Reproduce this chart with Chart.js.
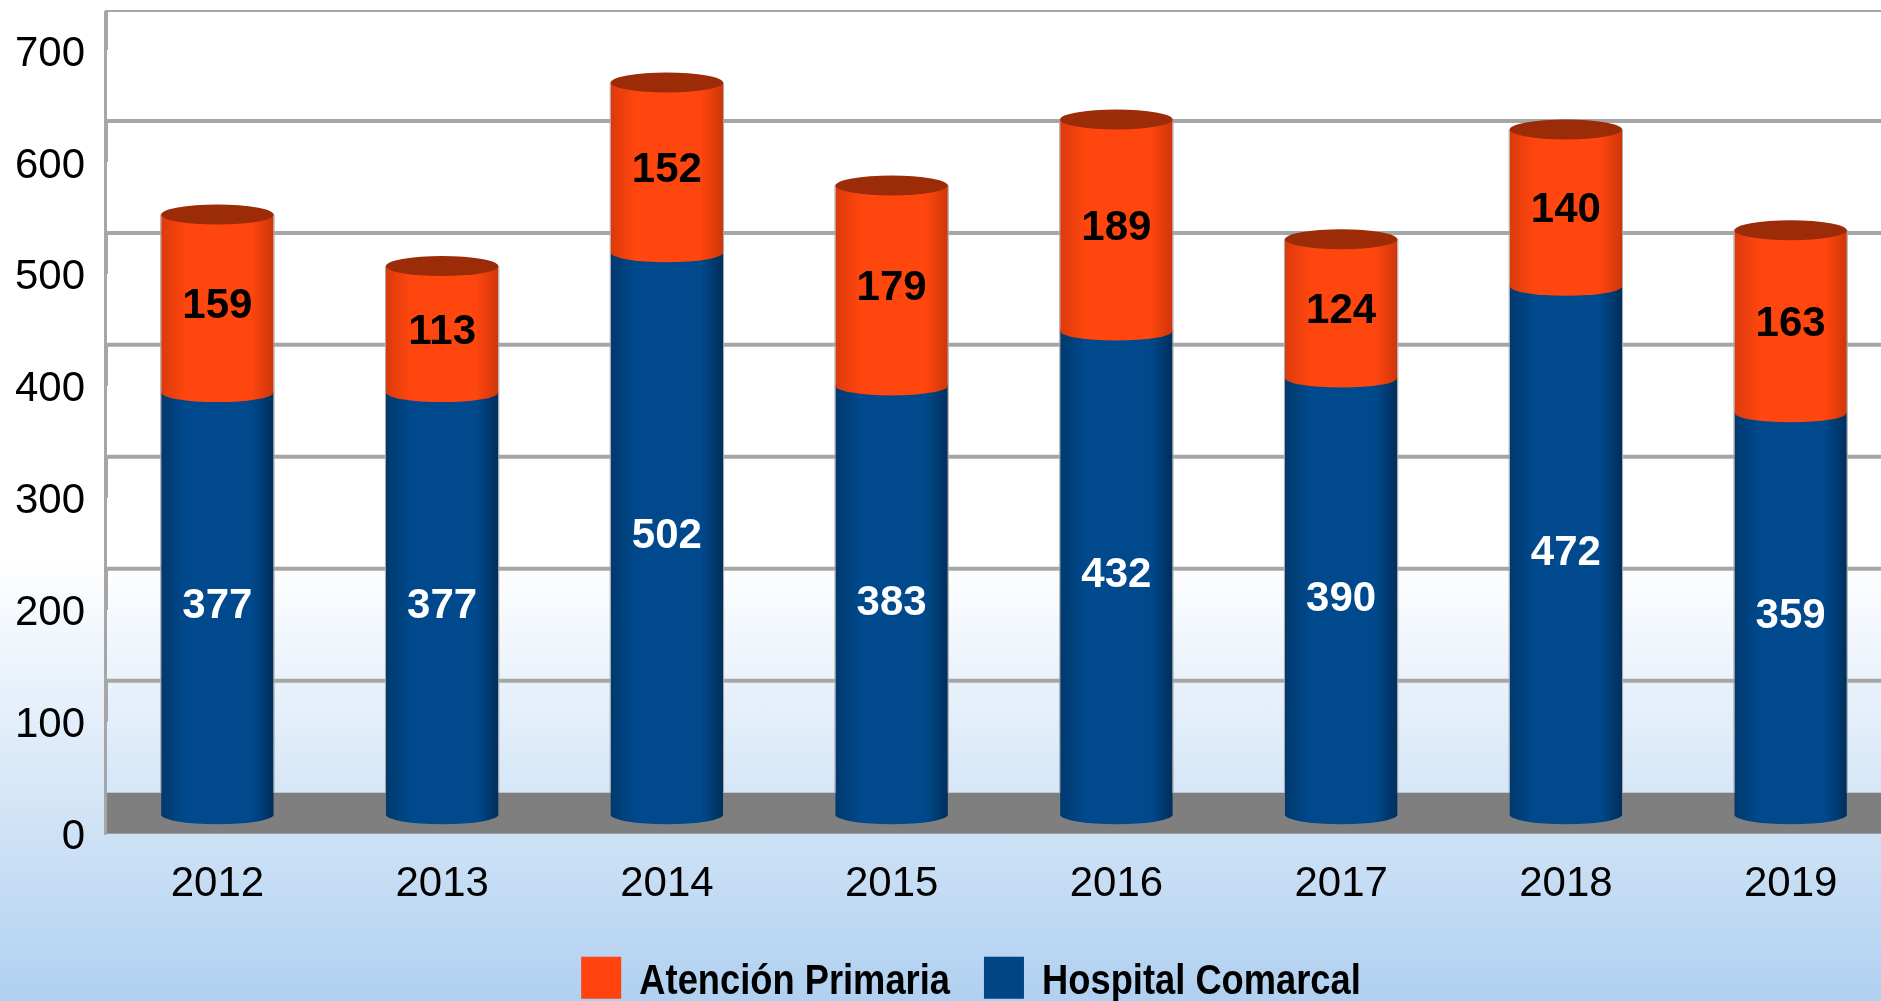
<!DOCTYPE html>
<html>
<head>
<meta charset="utf-8">
<title>Atención Primaria / Hospital Comarcal</title>
<script src="https://cdn.jsdelivr.net/npm/chart.js@4"></script>
<style>
  html, body { margin: 0; height: 100%; overflow: hidden; }
  body { background: linear-gradient(to bottom, #ffffff 0, #ffffff 560px, #b0d0f0 1001px); }
  canvas { display: block; }
</style>
</head>
<body>
<canvas id="chart" width="1942" height="1003"></canvas>
<script>
var categories = ['2012', '2013', '2014', '2015', '2016', '2017', '2018', '2019'];
var hospitalComarcal = [377, 377, 502, 383, 432, 390, 472, 359];
var atencionPrimaria = [159, 113, 152, 179, 189, 124, 140, 163];

var BLUE = { flat: '#004586', main: '#00498c', left: '#00396e', right: '#002f5c' };
var ORANGE = { flat: '#ff420e', main: '#ff460e', left: '#dc3a0c', right: '#cf360a', cap: '#9c2b07' };
var GRID = '#a6a6a6';
var FONT = '"Liberation Sans", Arial, sans-serif';

// 3D look: back wall sits above the bars' plane, axis labels sit below it
var WALL_SHIFT = -22;
var LABEL_SHIFT = 23;
var FLOOR_SHIFT = 19;
var TOP_EDGE_DROP = 2;
var CAP_RY = 9.5;

// legend text in the reference is squeezed, so it is set small and stretched up
var LEGEND_FONT = 36.3;
var LEGEND_STRETCH = 42 / LEGEND_FONT;
var LEGEND_SHIFT = 19.5;
var LEGEND_TEXT_DROP = 4;

// ── Horizontal gradient across a cylinder ─────────────
function barGradient(ctx, left, width, c) {
  var g = ctx.createLinearGradient(left, 0, left + width, 0);
  g.addColorStop(0, c.left);
  g.addColorStop(0.22, c.main);
  g.addColorStop(0.8, c.main);
  g.addColorStop(1, c.right);
  return g;
}

function cylinderFill(colors) {
  return function (c) {
    var chart = c.chart;
    if (!chart.chartArea) return colors.main;
    var x = chart.scales.x;
    var w = x.width / categories.length * 0.5;
    return barGradient(chart.ctx, x.getPixelForValue(c.dataIndex) - w / 2, w, colors);
  };
}

// ── Back wall, floor and side wall ────────────────────
var wallPlugin = {
  id: 'wall',
  beforeDatasetsDraw: function (chart) {
    var ctx = chart.ctx, y = chart.scales.y;
    var left = chart.chartArea.left, right = chart.width;
    var floorTop = y.getPixelForValue(0) + WALL_SHIFT;
    var floorBottom = y.getPixelForValue(0) + FLOOR_SHIFT;
    var wallTop = y.getPixelForValue(y.max) + WALL_SHIFT + TOP_EDGE_DROP;

    ctx.save();
    ctx.fillStyle = '#7f7f7f';
    ctx.fillRect(left, floorTop, right - left, floorBottom - floorTop);

    ctx.strokeStyle = GRID;
    y.ticks.forEach(function (t) {
      if (t.value === 0) return;
      var py = y.getPixelForValue(t.value) + WALL_SHIFT;
      if (t.value === y.max) py = wallTop;
      ctx.lineWidth = t.value === y.max ? 2 : 4;
      ctx.beginPath();
      ctx.moveTo(left, py);
      ctx.lineTo(right, py);
      ctx.stroke();

      ctx.lineWidth = 4;
      ctx.beginPath();
      ctx.moveTo(left + 1, py);
      ctx.lineTo(left + 1, y.getPixelForValue(t.value) + FLOOR_SHIFT);
      ctx.stroke();
    });

    ctx.lineWidth = 3;
    ctx.beginPath();
    ctx.moveTo(left + 0.5, wallTop);
    ctx.lineTo(left + 0.5, floorBottom + 1);
    ctx.stroke();
    ctx.restore();
  }
};

// ── Cylinder ends, edges and value labels ─────────────
var cylinderPlugin = {
  id: 'cylinder',
  afterDatasetsDraw: function (chart) {
    var ctx = chart.ctx;
    var lastSet = chart.data.datasets.length - 1;
    var floorTop = chart.scales.y.getPixelForValue(0) + WALL_SHIFT;

    ctx.save();
    chart.data.datasets.forEach(function (ds, i) {
      chart.getDatasetMeta(i).data.forEach(function (bar) {
        var rx = bar.width / 2;
        var edgeEnd = Math.min(bar.base, floorTop);
        ctx.strokeStyle = '#a8a8a8';
        ctx.lineWidth = 1;
        ctx.beginPath();
        ctx.moveTo(bar.x - rx - 0.5, bar.y);
        ctx.lineTo(bar.x - rx - 0.5, edgeEnd);
        ctx.moveTo(bar.x + rx + 0.5, bar.y);
        ctx.lineTo(bar.x + rx + 0.5, edgeEnd);
        ctx.stroke();

        ctx.fillStyle = barGradient(ctx, bar.x - rx, bar.width, ds.cylinder);
        ctx.beginPath();
        ctx.ellipse(bar.x, bar.base, rx, CAP_RY, 0, 0, Math.PI * 2);
        ctx.fill();
        if (i === lastSet) {
          ctx.fillStyle = ds.cylinder.cap;
          ctx.beginPath();
          ctx.ellipse(bar.x, bar.y, rx, CAP_RY + 0.5, 0, 0, Math.PI * 2);
          ctx.fill();
        }
      });
    });

    ctx.font = 'bold 42px ' + FONT;
    ctx.textAlign = 'center';
    ctx.textBaseline = 'middle';
    chart.data.datasets.forEach(function (ds, i) {
      ctx.fillStyle = ds.valueColor;
      chart.getDatasetMeta(i).data.forEach(function (bar, j) {
        ctx.fillText(ds.data[j], bar.x, (bar.y + bar.base) / 2 + 3);
      });
    });
    ctx.restore();
  }
};

// ── Stretch the legend vertically, from the top of its boxes ──
var legendStretchPlugin = {
  id: 'legendStretch',
  afterUpdate: function (chart) {
    var legend = chart.legend;
    if (legend.stretched) return;
    var draw = legend.draw;
    legend.stretched = true;
    legend.draw = function () {
      var ctx = chart.ctx;
      var y0 = legend.top + legend.options.labels.padding;
      var fillText = ctx.fillText;
      ctx.save();
      ctx.translate(LEGEND_SHIFT, y0);
      ctx.scale(1, LEGEND_STRETCH);
      ctx.translate(0, -y0);
      ctx.fillText = function (text, x, y) {
        fillText.call(ctx, text, x, y + LEGEND_TEXT_DROP);
      };
      draw.apply(legend, arguments);
      delete ctx.fillText;
      ctx.restore();
    };
  }
};

new Chart(document.getElementById('chart'), {
  type: 'bar',
  data: {
    labels: categories,
    datasets: [
      {
        label: 'Hospital Comarcal',
        data: hospitalComarcal,
        backgroundColor: cylinderFill(BLUE),
        cylinder: BLUE,
        valueColor: '#ffffff'
      },
      {
        label: 'Atención Primaria',
        data: atencionPrimaria,
        backgroundColor: cylinderFill(ORANGE),
        cylinder: ORANGE,
        valueColor: '#000000'
      }
    ]
  },
  options: {
    responsive: false,
    animation: false,
    layout: { padding: { top: 31, right: 39, bottom: 0, left: 0 } },
    datasets: { bar: { barPercentage: 0.5, categoryPercentage: 1, borderWidth: 0 } },
    plugins: {
      tooltip: { enabled: false },
      legend: {
        position: 'bottom',
        reverse: true,
        onClick: null,
        labels: {
          boxWidth: 40,
          boxHeight: LEGEND_FONT,
          padding: 34,
          color: '#000000',
          font: { family: FONT, size: LEGEND_FONT, weight: 'bold' },
          generateLabels: function (chart) {
            return chart.data.datasets.map(function (ds, i) {
              return {
                text: ds.label,
                fillStyle: ds.cylinder.flat,
                strokeStyle: ds.cylinder.flat,
                lineWidth: 0,
                fontColor: '#000000',
                datasetIndex: i
              };
            });
          }
        }
      }
    },
    scales: {
      x: {
        stacked: true,
        grid: { display: false },
        border: { display: false },
        ticks: { color: '#000000', padding: 37, font: { family: FONT, size: 42 } },
        afterFit: function (axis) { axis.height = 108; }
      },
      y: {
        stacked: true,
        min: 0,
        max: 700,
        grid: { display: false, drawTicks: false },
        border: { display: false },
        ticks: {
          stepSize: 100,
          color: '#000000',
          padding: 20,
          labelOffset: LABEL_SHIFT,
          font: { family: FONT, size: 42 }
        },
        afterFit: function (axis) {
          axis.width = 105;
          axis.paddingTop = 0;
          axis.paddingBottom = 0;
        }
      }
    }
  },
  plugins: [wallPlugin, cylinderPlugin, legendStretchPlugin]
});
</script>
</body>
</html>
